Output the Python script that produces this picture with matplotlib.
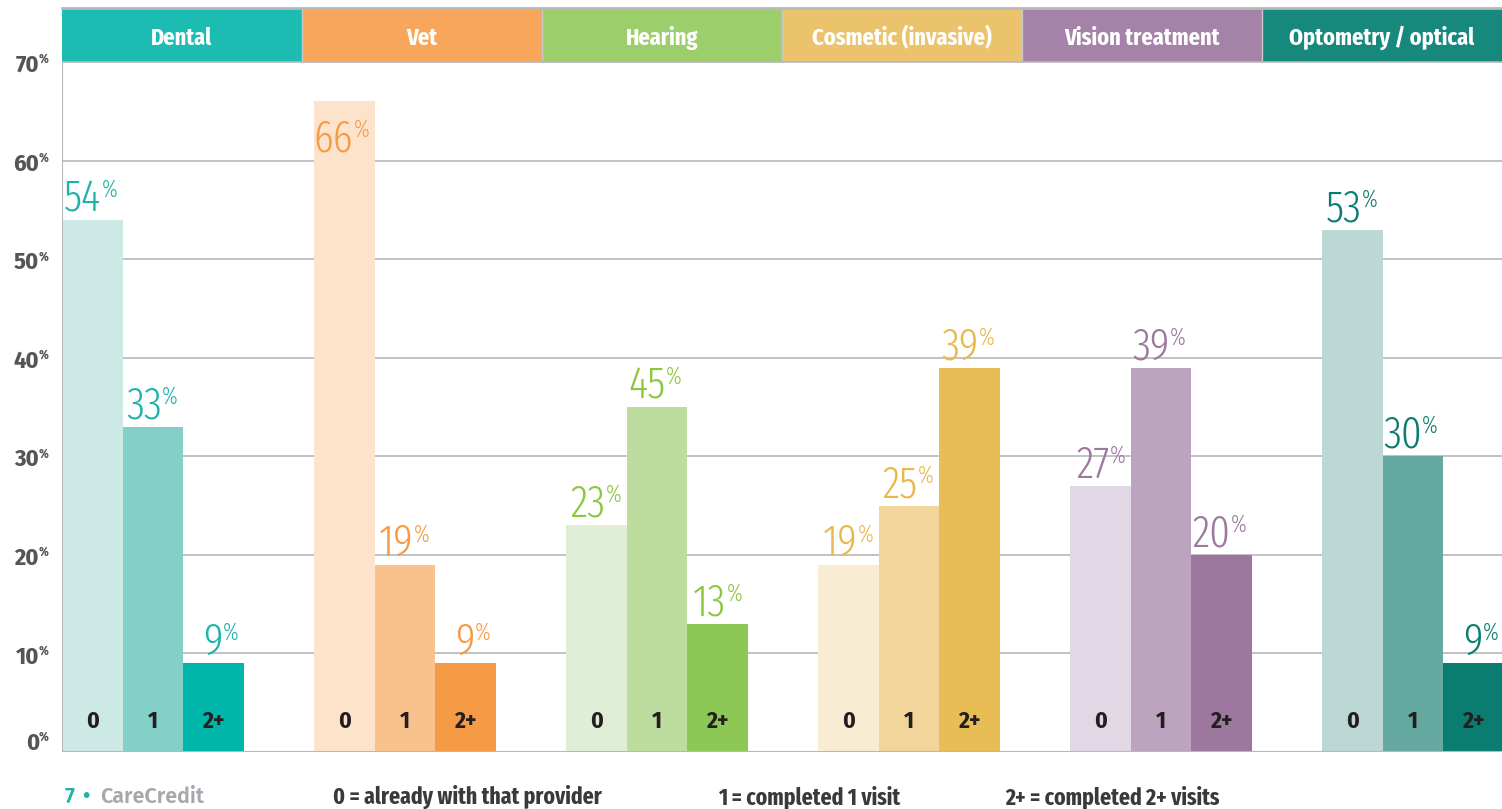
import matplotlib
matplotlib.use("Agg")
import matplotlib.pyplot as plt
from matplotlib.patches import Rectangle

# data
categories = ["Dental", "Vet", "Hearing", "Cosmetic (invasive)", "Vision treatment", "Optometry / optical"]
visits = ["0", "1", "2+"]
heights = [[54, 33, 9], [66, 19, 9], [23, 35, 13], [19, 25, 39], [27, 39, 20], [53, 30, 9]]
labels = [[54, 33, 9], [66, 19, 9], [23, 45, 13], [19, 25, 39], [27, 39, 20], [53, 30, 9]]
yticks = [0, 10, 20, 30, 40, 50, 60, 70]
legend_texts = ["0 = already with that provider", "1 = completed 1 visit", "2+ = completed 2+ visits"]

header_colors = ["#1dbcb2", "#f8a65b", "#9ccf6c", "#ecc36d", "#a583a8", "#16887c"]
label_colors = ["#1db3a8", "#f59b45", "#8dc63f", "#e8b94a", "#9c779e", "#0b7c70"]
bar_colors = [["#cde9e5", "#84d0c9", "#00b5aa"],
              ["#fde3cb", "#f9c18c", "#f59b45"],
              ["#e1eed6", "#bcdd9e", "#8dc857"],
              ["#f8edd3", "#f1d59a", "#e8bd55"],
              ["#e2d7e4", "#bca4c0", "#9c779e"],
              ["#bbd8d5", "#66a9a1", "#0b7c70"]]

XCOND = ["Fira Sans Extra Condensed", "DejaVu Sans"]
COND = ["Fira Sans Condensed", "DejaVu Sans"]
SANS = ["Fira Sans", "DejaVu Sans"]
W, H = 1502, 809
fig = plt.figure(figsize=(W / 100, H / 100), dpi=100)
ax = fig.add_axes([62 / W, (H - 752) / H, 1440 / W, 744 / H])
ytop = 744 / 9.857
ax.set_xlim(0, 1440)
ax.set_ylim(0, ytop)
ax.axis("off")

grey = "#b8b8bc"
for t in yticks[1:-1]:
    ax.plot([0, 1440], [t, t], color=grey, lw=1.2, zorder=1)
ax.plot([0, 1440], [0, 0], color=grey, lw=1.5, zorder=3)
ax.plot([0, 0], [0, 70], color=grey, lw=1.5, zorder=3)

# header band
hw = 1440 / len(categories)
for i, (cat, hc) in enumerate(zip(categories, header_colors)):
    ax.add_patch(Rectangle((i * hw, 70), hw, ytop - 70, facecolor=hc, edgecolor="none", zorder=2, clip_on=False))
    ax.text(i * hw + hw / 2, 70 + (ytop - 70) / 2 - 0.3, cat, ha="center", va="center", color="white",
            fontsize=17.5, fontweight="bold", family=XCOND, zorder=4)
    if i > 0:
        ax.plot([i * hw, i * hw], [70, ytop], color="#c8c8c8", lw=1, zorder=3)
ax.plot([0, 1440], [ytop, ytop], color=grey, lw=2, zorder=3, clip_on=False)
ax.plot([0, 1440], [70, 70], color=grey, lw=1.2, zorder=3)

# bars
bw = 60.5
gap = 252
for g in range(len(categories)):
    for j in range(len(visits)):
        x0 = g * gap + j * bw
        h = heights[g][j]
        ax.bar(x0, h, width=bw, align="edge", color=bar_colors[g][j], zorder=2)
        cx = x0 + bw / 2
        # label goes inside the bar when it would run into the header
        base = h + 0.85 if h + 5 < 70 else h - 5.1
        ax.text(cx + 9, base, str(labels[g][j]), ha="right", va="baseline", color=label_colors[g],
                fontsize=32, fontweight=300, family=XCOND, zorder=4)
        ax.text(cx + 9.5, base + 1.5, "%", ha="left", va="baseline", color=label_colors[g],
                fontsize=17, fontweight=300, family=XCOND, zorder=4)
        ax.text(cx, 3.1, visits[j], ha="center", va="center", color="#231f20",
                fontsize=17, fontweight="bold", family=COND, zorder=4)

# y tick labels
for t in yticks:
    y = t - 0.35 if t > 0 else 0.9
    ax.text(-23, y, str(t), ha="right", va="center", fontsize=17.5, fontweight="bold",
            color="#555555", family=COND, clip_on=False)
    ax.text(-23, y + 0.6, "%", ha="left", va="center", fontsize=9, fontweight="bold",
            color="#555555", family=COND, clip_on=False)

# footer
fy = 1 - 797 / H
fig.text(65 / W, fy, "7", color="#1db3a8", fontsize=15.5, fontweight=600, va="center", family=SANS)
fig.text(82 / W, fy, "•", color="#1db3a8", fontsize=15.5, fontweight=600, va="center", family=SANS)
fig.text(100 / W, fy, "CareCredit", color="#a6a6ad", fontsize=15.5, fontweight=600, va="center", family=SANS)
for xpx, txt in zip([333, 718, 1005], legend_texts):
    fig.text(xpx / W, fy, txt, color="#3a3a3a", fontsize=17, fontweight="bold", va="center", family=XCOND)

fig.savefig("out.png", dpi=100, facecolor="white")
